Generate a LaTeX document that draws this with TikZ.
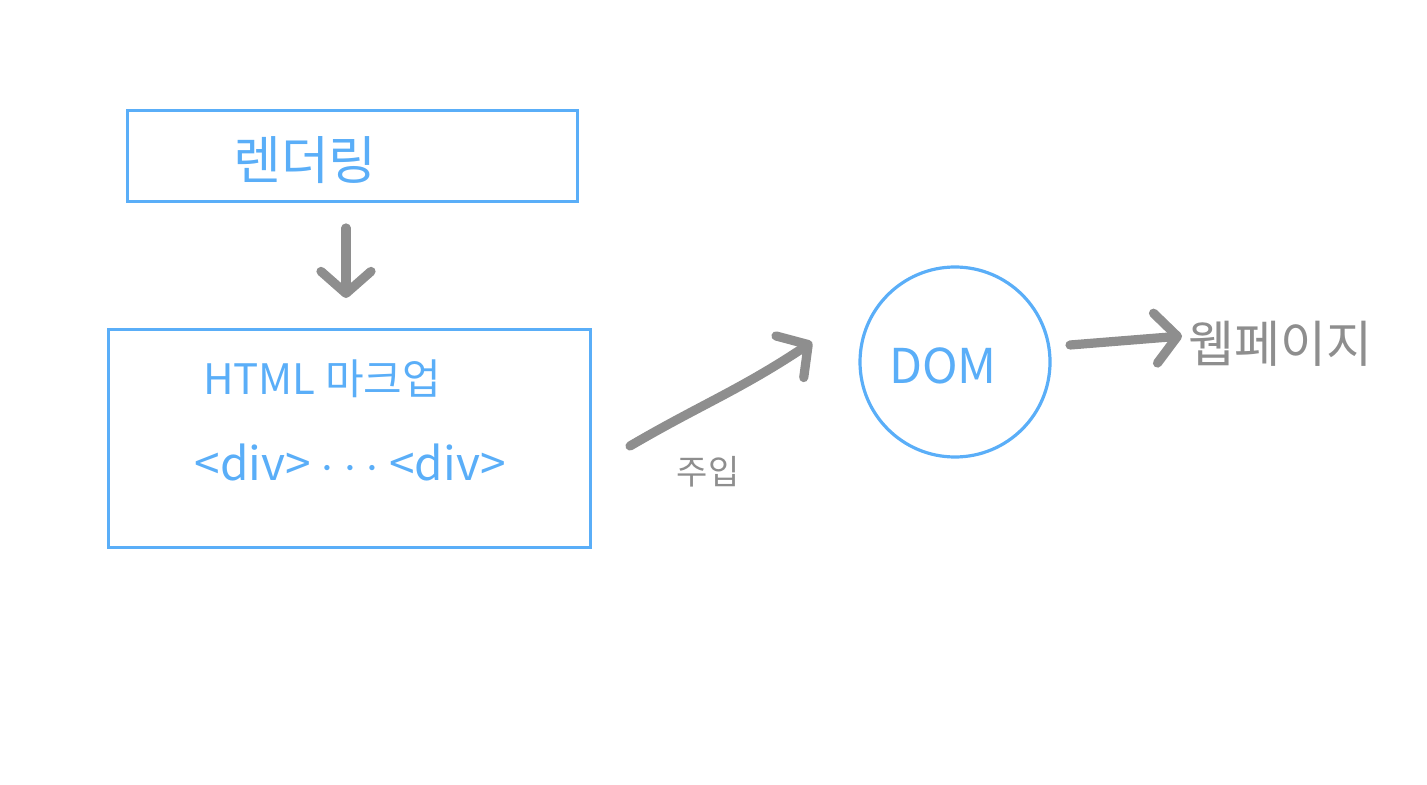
\documentclass[tikz,border=0pt]{standalone}
\usepackage{fontspec}
\setmainfont{Noto Sans CJK KR}
\usetikzlibrary{arrows.meta}
\definecolor{skyblue}{HTML}{5AAEF8}
\definecolor{pen}{HTML}{8E8E8E}
\tikzset{
  boxline/.style={draw=skyblue, line width=1.6pt},
  bluetext/.style={text=skyblue, inner sep=0pt},
  graytext/.style={text=pen, inner sep=0pt},
  penarrow/.style={draw=pen, line width=4.6pt, line cap=round, line join=round,
    -{Straight Barb[length=11pt, width=25pt, line width=4.6pt, round]}},
}
\begin{document}
\begin{tikzpicture}[x=0.5pt, y=-0.5pt]
\useasboundingbox (0,0) rectangle (1427,785);
\node[boxline, minimum width=225pt, minimum height=45.5pt, anchor=north west] (render) at (126,109) {};
\node[bluetext, font=\fontsize{26}{30}\selectfont] (rendertxt) at (305,160) {렌더링};
\node[boxline, minimum width=241pt, minimum height=109pt, anchor=north west] (html) at (107,328) {};
\node[bluetext, font=\fontsize{21}{25}\selectfont] (htmltxt) at (322,379) {HTML 마크업};
\node[bluetext, font=\fontsize{23}{26}\selectfont] (divtxt) at (350,462) {<div> $\cdots$ <div>};
\node[draw=skyblue, line width=1.6pt, circle, minimum size=95pt, inner sep=0pt] (dom) at (955,362) {};
\node[bluetext, font=\fontsize{24}{28}\selectfont] (domtxt) at (943,366) {DOM};
\node[graytext, font=\fontsize{25}{30}\selectfont] (web) at (1280,344) {웹페이지};
\node[graytext, font=\fontsize{17}{20}\selectfont] (inject) at (708,472) {주입};
\coordinate (a1) at (346,228);
\coordinate (a2) at (346,298);
\coordinate (b1) at (630,446);
\coordinate (b2) at (812,342);
\coordinate (c1) at (1070,345);
\coordinate (c2) at (1182,336);
\draw[penarrow] (a1) -- (a2);
\draw[penarrow] (b1) .. controls (700,405) and (740,390) .. (b2);
\draw[penarrow] (c1) -- (c2);
\end{tikzpicture}
\end{document}
